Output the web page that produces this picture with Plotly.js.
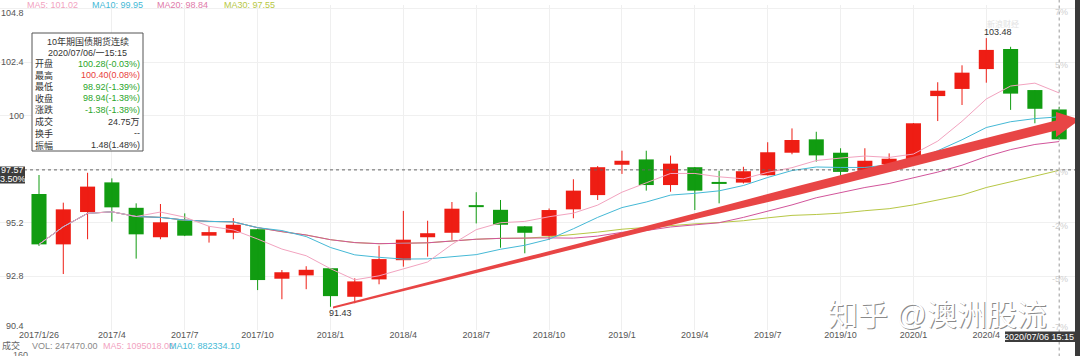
<!DOCTYPE html>
<html><head><meta charset="utf-8">
<script src="https://cdn.plot.ly/plotly-3.0.1.min.js"></script>
<style>html,body{margin:0;padding:0;background:#fff;}#chart{width:1080px;height:356px;}</style>
</head><body><div id="chart"></div>
<script>
// ---------------- data ----------------
const months = ['2017/01','2017/02','2017/03','2017/04','2017/05','2017/06','2017/07','2017/08','2017/09','2017/10','2017/11','2017/12',
  '2018/01','2018/02','2018/03','2018/04','2018/05','2018/06','2018/07','2018/08','2018/09','2018/10','2018/11','2018/12',
  '2019/01','2019/02','2019/03','2019/04','2019/05','2019/06','2019/07','2019/08','2019/09','2019/10','2019/11','2019/12',
  '2020/01','2020/02','2020/03','2020/04','2020/05','2020/06','2020/07'];
const openP  = [96.49,94.23,95.68,97.01,95.87,94.55,95.31,94.62,94.75,94.91,92.69,92.84,93.16,91.88,92.66,93.52,94.55,94.75,95.93,95.78,95.04,94.61,95.80,96.44,97.80,98.04,96.89,97.69,97.00,97.00,97.33,98.34,98.94,98.34,97.53,97.83,98.04,100.88,101.20,102.09,102.99,101.15,100.28];
const highP  = [97.34,96.10,97.44,97.19,96.07,96.04,95.62,95.05,95.41,94.93,93.08,93.25,93.17,92.71,94.17,95.73,95.29,96.13,96.57,96.22,95.05,95.84,97.15,97.74,98.43,98.43,98.21,97.70,97.53,97.71,98.81,99.43,99.28,98.54,98.54,98.31,99.67,101.50,102.26,103.48,103.09,101.15,100.40];
const lowP   = [94.16,92.90,94.46,95.25,93.59,94.46,94.60,94.31,94.46,92.18,91.77,92.22,91.43,91.59,92.44,93.23,93.68,94.43,95.17,94.08,93.83,94.43,95.40,96.22,97.39,96.64,96.59,95.77,96.07,96.96,97.32,98.27,97.94,97.16,97.44,97.79,98.01,99.76,100.48,101.48,100.26,99.66,98.92];
const closeP = [94.23,95.80,96.82,95.89,94.68,95.22,94.62,94.78,95.11,92.63,92.98,93.09,91.91,92.57,93.57,94.44,94.73,95.83,95.90,95.11,94.75,95.77,96.64,97.69,97.98,96.89,97.85,96.64,96.94,97.51,98.36,98.91,98.22,97.48,97.98,98.07,99.66,101.12,101.93,102.95,100.99,100.31,98.94];
const ma5  = [94.23,95.02,95.62,95.69,95.48,95.68,95.45,95.04,94.88,94.47,94.02,93.72,93.14,92.64,92.82,93.12,93.44,94.23,94.89,95.20,95.26,95.47,95.63,95.99,96.57,96.99,97.41,97.41,97.26,97.17,97.46,97.67,97.99,98.10,98.19,98.13,98.28,98.86,99.75,100.75,101.33,101.46,101.02];
const ma10 = [94.23,95.02,95.62,95.69,95.48,95.44,95.32,95.26,95.24,94.98,94.85,94.58,94.09,93.76,93.65,93.57,93.58,93.69,93.77,94.01,94.19,94.46,94.93,95.44,95.88,96.13,96.44,96.52,96.63,96.87,97.23,97.54,97.70,97.68,97.68,97.80,97.98,98.43,98.92,99.47,99.73,99.87,99.95];
const ma20 = [94.23,95.02,95.62,95.69,95.48,95.44,95.32,95.26,95.24,94.98,94.80,94.65,94.44,94.31,94.26,94.27,94.30,94.38,94.46,94.50,94.52,94.52,94.51,94.60,94.77,94.85,95.01,95.10,95.20,95.44,95.71,96.00,96.32,96.56,96.78,96.96,97.21,97.47,97.78,98.17,98.48,98.71,98.84];
const ma30 = [94.23,95.02,95.62,95.69,95.48,95.44,95.32,95.26,95.24,94.98,94.80,94.65,94.44,94.31,94.26,94.27,94.30,94.38,94.46,94.50,94.51,94.57,94.66,94.78,94.91,94.99,95.09,95.15,95.21,95.29,95.42,95.53,95.57,95.63,95.74,95.83,96.00,96.21,96.44,96.78,97.05,97.29,97.55];
const xTickIdx  = [0,3,6,9,12,15,18,21,24,27,30,33,36,39];
const xTickText = ['2017/1/26','2017/4','2017/7','2017/10','2018/1','2018/4','2018/7','2018/10','2019/1','2019/4','2019/7','2019/10','2020/1','2020/4'];
const yTickVals = [90.4,92.8,95.2,97.6,100,102.4,104.8];
const yTickText = ['90.4','92.8','95.2','','100','102.4','104.8'];
const pctTickText = ['-7%','-5%','-2%','0%','','5%','7%'];
const refPrice = 97.57, refPct = '3.50%';
const maxIdx = 39, maxVal = 103.48, minIdx = 12, minVal = 91.43;
const legendText = ['MA5: 101.02','MA10: 99.95','MA20: 98.84','MA30: 97.55'];
const volText = ['成交','VOL: 247470.00','MA5: 1095018.00','MA10: 882334.10'];
const infoTitle = '10年期国债期货连续', infoDate = '2020/07/06/一15:15';
const infoLabels = ['开盘','最高','最低','收盘','涨跌','成交','换手','振幅'];
const infoValues = ['100.28(-0.03%)','100.40(0.08%)','98.92(-1.39%)','98.94(-1.38%)','-1.38(-1.38%)','24.75万','--','1.48(1.48%)'];
const lastTime = '2020/07/06 15:15';

// ---------------- styles ----------------
const RED = '#ee1d14', GREEN = '#119c11';
const C5 = '#f2a3bf', C10 = '#45b9d6', C20 = '#d2559b', C30 = '#b7c745';
const FONT = 'Liberation Sans, Arial, Noto Sans CJK SC, sans-serif';
const W = 1080, H = 356, M = {l:0, r:5, t:5, b:26};
const PW = W - M.l - M.r, PH = H - M.t - M.b;
const px = x => (x - M.l) / PW;           // pixel -> paper x
const py = y => (M.t + PH - y) / PH;      // pixel -> paper y

const xIdx = months.map((_, i) => i);
const isUp = closeP.map((c, i) => c >= openP[i]);
const bodyBase = closeP.map((c, i) => Math.min(c, openP[i]));
const bodyH = closeP.map((c, i) => Math.max(Math.abs(c - openP[i]), 0.09));

function wicks(flag) {
  const xs = [], ys = [];
  xIdx.forEach(i => { if (isUp[i] === flag) { xs.push(i, i, null); ys.push(lowP[i], highP[i], null); } });
  return {type:'scatter', mode:'lines', x:xs, y:ys, line:{color: flag ? RED : GREEN, width:1}, hoverinfo:'skip', showlegend:false};
}
const maTrace = (y, c) => ({type:'scatter', mode:'lines', x:xIdx, y:y, line:{color:c, width:1}, hoverinfo:'skip', showlegend:false});

const data = [
  {type:'bar', x:xIdx, y:bodyH, base:bodyBase, width:0.62, marker:{color:isUp.map(u => u ? RED : GREEN), line:{width:0}}, hoverinfo:'skip', showlegend:false},
  wicks(true), wicks(false),
  maTrace(ma30, C30), maTrace(ma20, C20), maTrace(ma10, C10), maTrace(ma5, C5)
];

const ann = [];
const txt = (o) => Object.assign({showarrow:false, font:{family:FONT, size:9, color:'#444'}}, o);
// y labels left & right
yTickVals.forEach((v, k) => {
  const ys = k === yTickVals.length - 1 ? -4 : (k === 0 ? 4 : 0);
  if (yTickText[k]) ann.push(txt({xref:'paper', yref:'y', x:px(26), y:v, xanchor:'right', yanchor:'middle', yshift:ys, text:yTickText[k], font:{family:FONT, size:9, color:'#555'}}));
  if (pctTickText[k]) ann.push(txt({xref:'paper', yref:'y', x:px(1070), y:v, xanchor:'right', yanchor:'middle', yshift:(k === 0 ? 3 : -3), text:pctTickText[k], font:{family:FONT, size:9, color:'#cfcfcf'}}));
});
// ref price tag
ann.push(txt({xref:'paper', yref:'paper', x:px(12.5), y:py(170.5), xanchor:'center', yanchor:'middle', text:String(refPrice), font:{family:FONT, size:9, color:'#fff'}}));
ann.push(txt({xref:'paper', yref:'paper', x:px(12.5), y:py(179.3), xanchor:'center', yanchor:'middle', text:refPct, font:{family:FONT, size:9, color:'#fff'}}));
// max / min labels
ann.push(txt({xref:'x', yref:'y', x:maxIdx, y:maxVal, xanchor:'left', yanchor:'bottom', xshift:-4, yshift:-1, text:maxVal.toFixed(2), font:{family:FONT, size:9, color:'#333'}}));
ann.push(txt({xref:'x', yref:'y', x:minIdx, y:minVal, xanchor:'left', yanchor:'top', xshift:-3, yshift:1, text:minVal.toFixed(2), font:{family:FONT, size:9, color:'#333'}}));
// top MA legend
const legX = [25, 90, 155, 222], legC = [C5, C10, '#e07aa9', C30];
legendText.forEach((t, k) => ann.push(txt({xref:'paper', yref:'paper', x:px(legX[k]), y:py(5), xanchor:'left', yanchor:'middle', text:t, font:{family:FONT, size:9, color:legC[k]}})));
// bottom volume legend
const volX = [0, 30, 101, 167], volC = ['#666', '#888', C5, C10];
volText.forEach((t, k) => ann.push(txt({xref:'paper', yref:'paper', x:px(volX[k]), y:py(345.5), xanchor:'left', yanchor:'middle', text:t, font:{family:FONT, size:9, color:volC[k]}})));
ann.push(txt({xref:'paper', yref:'paper', x:px(11), y:py(355), xanchor:'left', yanchor:'middle', text:'160', font:{family:FONT, size:9, color:'#666'}}));
// last time tag
ann.push(txt({xref:'paper', yref:'paper', x:px(1039), y:py(336.7), xanchor:'center', yanchor:'middle', text:lastTime, font:{family:FONT, size:9, color:'#fff'}}));
// info box
ann.push(txt({xref:'paper', yref:'paper', x:px(87.5), y:py(41.5), xanchor:'center', yanchor:'middle', text:infoTitle, font:{family:FONT, size:9, color:'#333'}}));
ann.push(txt({xref:'paper', yref:'paper', x:px(87.5), y:py(52.5), xanchor:'center', yanchor:'middle', text:infoDate, font:{family:FONT, size:9, color:'#333'}}));
const infoColors = ['#2aa52a','#e8413c','#2aa52a','#2aa52a','#2aa52a','#333','#333','#333'];
infoLabels.forEach((l, k) => {
  const yy = 63.5 + 11.65 * k;
  ann.push(txt({xref:'paper', yref:'paper', x:px(33), y:py(yy), xanchor:'left', yanchor:'middle', text:l, font:{family:FONT, size:9, color:'#333'}}));
  ann.push(txt({xref:'paper', yref:'paper', x:px(142), y:py(yy), xanchor:'right', yanchor:'middle', text:infoValues[k], font:{family:FONT, size:9, color:infoColors[k]}}));
});
// watermarks
ann.push(txt({xref:'paper', yref:'paper', x:px(1003), y:py(24), xanchor:'center', yanchor:'middle', text:'新浪财经', font:{family:FONT, size:8, color:'#e2e2e2'}}));
ann.push(txt({xref:'paper', yref:'paper', x:px(937), y:py(314), xanchor:'center', yanchor:'middle', xshift:1.5, yshift:-1.5, text:'知乎 @澳洲股流', font:{family:FONT, size:30, color:'#8a8a8a'}}));
ann.push(txt({xref:'paper', yref:'paper', x:px(937), y:py(314), xanchor:'center', yanchor:'middle', text:'知乎 @澳洲股流', font:{family:FONT, size:30, color:'#ffffff'}}));

const arrowPath = 'M12.104,91.444 L20.626,93.825 L27.213,95.677 L31.330,96.870 L39.564,99.152 L41.869,99.785 L41.869,100.166 L42.858,99.830 L41.869,99.045 L41.869,99.336 L39.564,98.704 L31.330,96.466 L27.213,95.408 L20.626,93.646 L12.104,91.354 Z';

const shapes = [
  {type:'line', xref:'paper', yref:'y', x0:0, x1:1, y0:refPrice, y1:refPrice, line:{color:'#666', width:1, dash:'dot'}},
  {type:'line', xref:'x', yref:'paper', x0:42, x1:42, y0:-0.1, y1:1.02, line:{color:'#999', width:1, dash:'dot'}},
  {type:'path', xref:'x', yref:'y', path:arrowPath, fillcolor:'#e84545', line:{width:0}},
  {type:'rect', xref:'paper', yref:'paper', x0:px(32), x1:px(143), y0:py(151), y1:py(33), fillcolor:'#fff', line:{color:'#555', width:1}},
  {type:'rect', xref:'paper', yref:'paper', x0:px(0), x1:px(25), y0:py(183.5), y1:py(166.5), fillcolor:'#3c3c3c', line:{width:0}},
  {type:'rect', xref:'paper', yref:'paper', x0:px(1005), x1:px(1075), y0:py(342), y1:py(331.5), fillcolor:'#3c3c3c', line:{width:0}},
  {type:'rect', xref:'paper', yref:'paper', x0:1, x1:px(1081), y0:py(357), y1:py(-1), fillcolor:'#3a3a3a', line:{width:0}}
];

const xr = [(0 - 39) / 24.29, (PW - 39) / 24.29];
const ppu = 22.3, y100 = 115.7;
const yr = [100 - (M.t + PH - y100) / ppu, 100 + (y100 - M.t) / ppu];

const layout = {
  width:W, height:H, margin:M, paper_bgcolor:'#fff', plot_bgcolor:'#fff', showlegend:false, hovermode:false,
  font:{family:FONT, size:9, color:'#555'},
  xaxis:{range:xr, tickmode:'array', tickvals:xTickIdx, ticktext:xTickText, ticks:'', showgrid:false, zeroline:false, showline:false,
         tickfont:{family:FONT, size:9, color:'#555'}, fixedrange:true, ticklabelstandoff:-2,
         minor:{tickmode:'array', tickvals:xTickIdx.slice(1), showgrid:true, gridcolor:'#efefef', gridwidth:1, ticks:''}},
  yaxis:{range:yr, tickmode:'array', tickvals:yTickVals, showticklabels:false, ticks:'', showgrid:true, gridcolor:'#f0f0f0', zeroline:false, showline:false, fixedrange:true},
  shapes:shapes, annotations:ann
};
Plotly.newPlot('chart', data, layout, {staticPlot:true, displayModeBar:false});
</script></body></html>
